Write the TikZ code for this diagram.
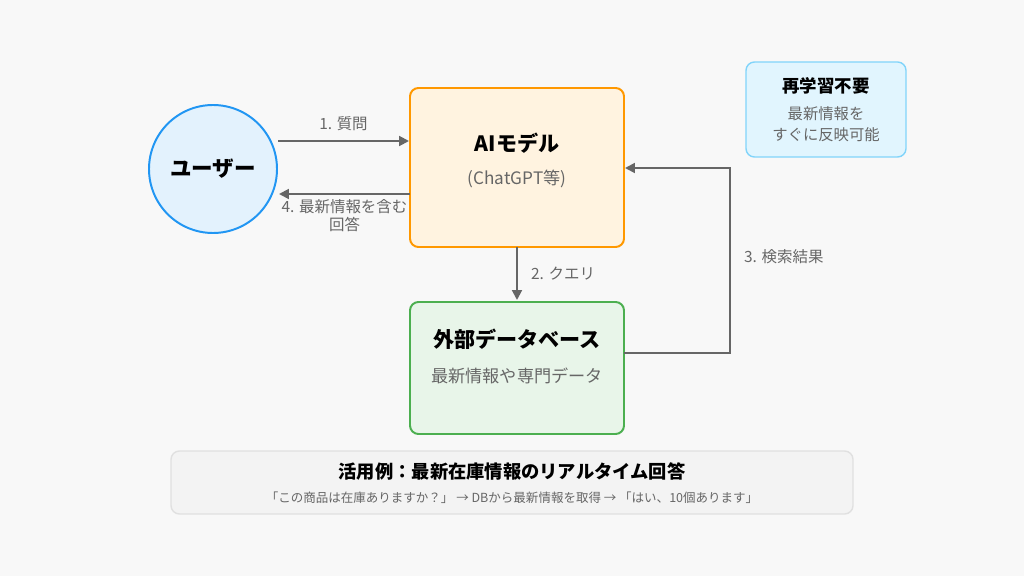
\documentclass[tikz,border=0pt]{standalone}
\usepackage{fontspec}
\setmainfont{Noto Sans CJK JP}
\usetikzlibrary{arrows.meta,positioning}
\definecolor{bgc}{HTML}{F8F8F8}
\definecolor{userfill}{HTML}{E3F2FD}
\definecolor{userline}{HTML}{2196F3}
\definecolor{aifill}{HTML}{FFF3E0}
\definecolor{ailine}{HTML}{FF9800}
\definecolor{dbfill}{HTML}{E8F5E9}
\definecolor{dbline}{HTML}{4CAF50}
\definecolor{notefill}{HTML}{E1F5FE}
\definecolor{noteline}{HTML}{81D4FA}
\definecolor{exfill}{HTML}{F3F3F3}
\definecolor{exline}{HTML}{E0E0E0}
\definecolor{arrowc}{HTML}{666666}
\definecolor{subc}{HTML}{666666}
\tikzset{>=Latex}
\tikzset{
  box/.style={draw, rounded corners=6pt, line width=1.4pt},
  flow/.style={->, draw=arrowc, line width=1.4pt, >={Triangle[length=7pt,width=7pt]}},
  lbl/.style={text=subc, font=\fontsize{11}{13}\selectfont, align=center},
  title/.style={font=\fontsize{15}{17}\selectfont\bfseries},
}
\begin{document}
\begin{tikzpicture}[x=0.025cm, y=-0.025cm]

% Background
\fill[bgc] (0,0) rectangle (1024,576);

% Boxes
\node[draw=userline, fill=userfill, circle, line width=1.4pt, minimum size=128*0.025cm] (user) at (213,169) {};
\node[title, font=\fontsize{15.3}{17}\selectfont\bfseries] at (user) {ユーザー};

\draw[box, draw=ailine, fill=aifill] (410,88) rectangle (624,247);
\coordinate (ai) at (517,167);
\node[title] (aititle) at (517,143) {AIモデル};
\node[lbl, font=\fontsize{12.2}{14}\selectfont] (aisub) at (517,179) {(ChatGPT等)};

\draw[box, draw=dbline, fill=dbfill] (410,302) rectangle (624,434);
\node[title] (dbtitle) at (517,339) {外部データベース};
\node[lbl, font=\fontsize{12.2}{14}\selectfont] (dbsub) at (517,376) {最新情報や専門データ};

\draw[box, draw=noteline, fill=notefill, line width=1pt] (746,62) rectangle (906,157);
\node[font=\fontsize{12.4}{14}\selectfont\bfseries] (notetitle) at (826,86) {再学習不要};
\node[lbl, font=\fontsize{10.9}{15}\selectfont] (notesub) at (826,124) {最新情報を\\すぐに反映可能};

\draw[box, draw=exline, fill=exfill, line width=1pt] (171,451) rectangle (853,514);
\node[font=\fontsize{13}{15}\selectfont\bfseries] (extitle) at (512,472) {活用例：最新在庫情報のリアルタイム回答};
\node[lbl, font=\fontsize{8.9}{10}\selectfont] (exsub) at (512,498) {「この商品は在庫ありますか？」 → DBから最新情報を取得 → 「はい、10個あります」};

% Connectors
\coordinate (q1) at (278,141);
\coordinate (q2) at (409,141);
\coordinate (r1) at (410,194);
\coordinate (r2) at (279,194);
\coordinate (c1) at (517,247);
\coordinate (c2) at (517,300);
\coordinate (d1) at (624,353);
\coordinate (d2) at (730,353);
\coordinate (d3) at (730,168);
\coordinate (d4) at (625,168);

\draw[flow] (q1) -- (q2) node[lbl, midway, above=3pt] {1. 質問};
\draw[flow] (r1) -- (r2) node[lbl, midway, below=0pt] {4. 最新情報を含む\\回答};
\draw[flow] (c1) -- (c2) node[lbl, midway, right=6pt] {2. クエリ};
\draw[flow] (d1) -- (d2) -- (d3) node[lbl, pos=0.52, right=6pt] {3. 検索結果} -- (d4);

\end{tikzpicture}
\end{document}
